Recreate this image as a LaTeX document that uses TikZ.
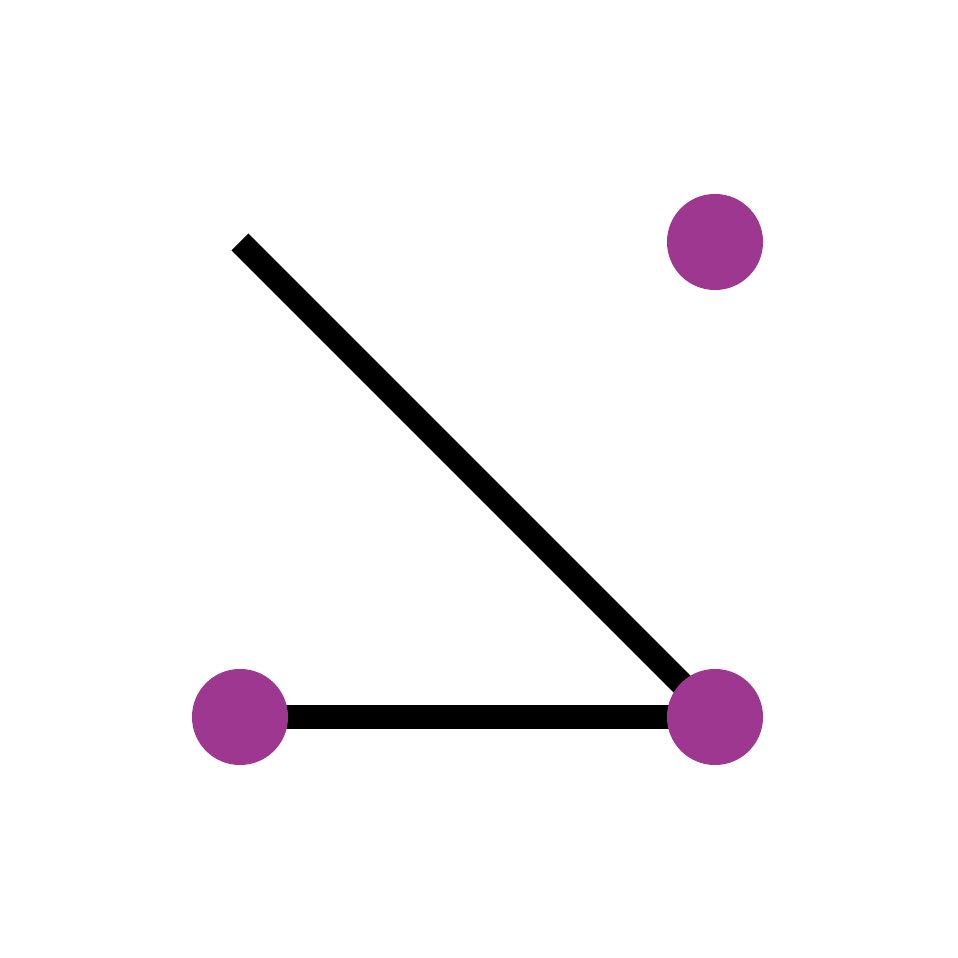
\documentclass[tikz,border=0pt]{standalone}
\usepackage{tikz}
\definecolor{dotpurple}{RGB}{158,55,144}

\begin{document}
\begin{tikzpicture}[ x=0.01cm, y=0.01cm,
  dot/.style={circle, fill=dotpurple, inner sep=0pt, minimum size=0.96cm},
  edge/.style={line width=0.24cm, line cap=butt} ]

\useasboundingbox (0,0) rectangle (958,958);

\coordinate (L) at (240,241);
\coordinate (R) at (715,241);
\coordinate (T) at (715,716);
\coordinate (E) at (240,716);

\draw[edge] (R) -- (E);
\draw[edge] (L) -- (R);

\node[dot] (l) at (L) {};
\node[dot] (r) at (R) {};
\node[dot] (t) at (T) {};

\end{tikzpicture}
\end{document}
